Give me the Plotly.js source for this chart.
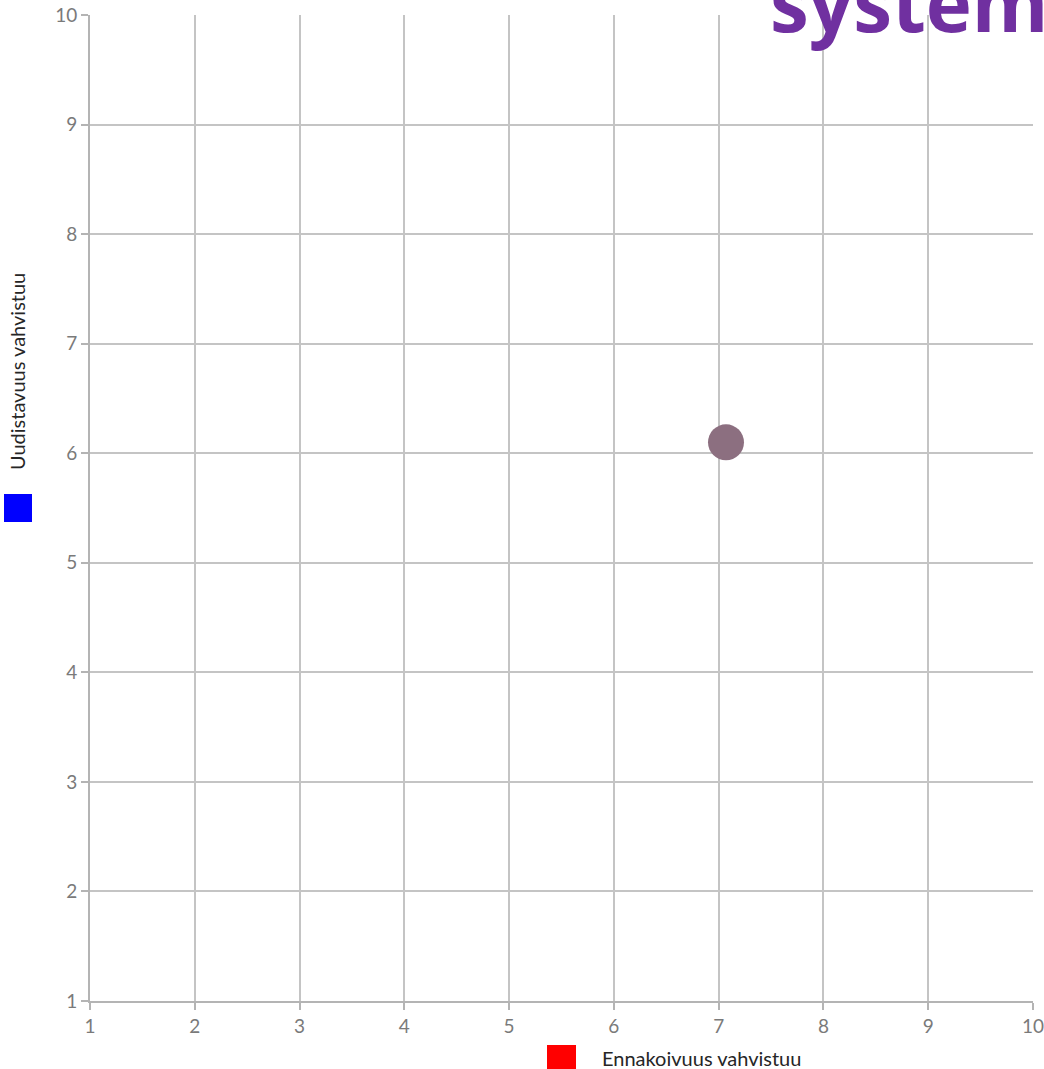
<!DOCTYPE html>
<html>
<head>
<meta charset="utf-8">
<script src="https://cdn.plot.ly/plotly-3.0.1.min.js"></script>
<style>html,body{margin:0;padding:0;background:#fff;} #chart{width:1044px;height:1069px;}</style>
</head>
<body>
<div id="chart"></div>
<script>
// Data
const pointX = [7.07];
const pointY = [6.1];
const xTickVals = [1,2,3,4,5,6,7,8,9,10];
const yTickVals = [1,2,3,4,5,6,7,8,9,10];
const xTitle = "Ennakoivuus vahvistuu";
const yTitle = "Uudistavuus vahvistuu";
const cornerText = "system";

const W = 1044, H = 1069;
const L = 90, R = 11, T = 15, B = 68;
const pw = W - L - R, ph = H - T - B;
const px = v => (v - L) / pw;
const py = v => (H - B - v) / ph;

const trace = {
  x: pointX, y: pointY, type: 'scatter', mode: 'markers',
  marker: {size: 36, color: 'rgb(140,111,128)', line: {width: 0}},
  hoverinfo: 'x+y', showlegend: false
};

const axisCommon = {
  showgrid: true, gridcolor: '#c4c4c4', gridwidth: 2,
  showline: true, linecolor: '#b4b4b4', linewidth: 2,
  ticks: 'outside', ticklen: 7, tickwidth: 2, tickcolor: '#b4b4b4',
  tickfont: {family: 'Lato, Carlito, sans-serif', size: 19, color: '#7a7a7a'},
  ticklabeloverflow: 'allow',
  zeroline: false, fixedrange: true
};

const layout = {
  width: W, height: H,
  margin: {l: L, r: R, t: T, b: B},
  paper_bgcolor: '#fff', plot_bgcolor: '#fff',
  xaxis: Object.assign({}, axisCommon, {range: [1, 10], tickvals: xTickVals, ticktext: xTickVals.map(String)}),
  yaxis: Object.assign({}, axisCommon, {range: [1, 10], tickvals: yTickVals, ticktext: yTickVals.map(String)}),
  shapes: [
    {type: 'rect', xref: 'paper', yref: 'paper', x0: px(4), x1: px(32), y0: py(522), y1: py(494),
     fillcolor: '#0000ff', line: {width: 0}},
    {type: 'rect', xref: 'paper', yref: 'paper', x0: px(547), x1: px(576), y0: py(1074), y1: py(1045),
     fillcolor: '#ff0000', line: {width: 0}}
  ],
  annotations: [
    {text: xTitle, xref: 'paper', yref: 'paper', x: px(600), y: py(1058), xanchor: 'left', yanchor: 'middle',
     showarrow: false, font: {family: 'Lato, sans-serif', size: 20, color: '#262626'}},
    {text: yTitle, xref: 'paper', yref: 'paper', x: px(17), y: py(372), xanchor: 'center', yanchor: 'middle',
     textangle: -90, showarrow: false, font: {family: 'Lato, sans-serif', size: 20, color: '#262626'}},
    {text: '<b>' + cornerText + '</b>', xref: 'paper', yref: 'paper', x: px(768), y: py(-53), xanchor: 'left', yanchor: 'top',
     showarrow: false, font: {family: 'Open Sans, sans-serif', size: 78, color: '#7030a0'}}
  ]
};

Plotly.newPlot('chart', [trace], layout, {displayModeBar: false, staticPlot: true});
</script>
</body>
</html>
